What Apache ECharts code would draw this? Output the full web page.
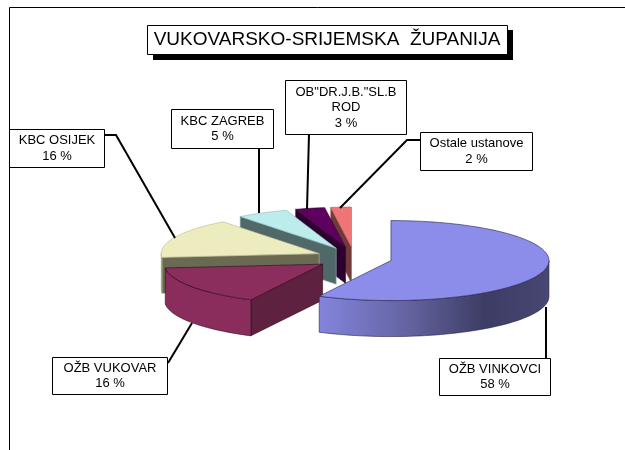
<!DOCTYPE html>
<html><head><meta charset="utf-8">
<style>html,body{margin:0;padding:0;background:#fff}#c{width:625px;height:450px}</style>
<script src="https://cdn.jsdelivr.net/npm/echarts@6/dist/echarts.min.js"></script>
</head><body><div id="c"></div>
<script>
// Data
const chartTitle = 'VUKOVARSKO-SRIJEMSKA  ŽUPANIJA';
const categories = ['OŽB VINKOVCI', 'OŽB VUKOVAR', 'KBC OSIJEK', 'KBC ZAGREB', 'OB"DR.J.B."SL.B\nROD', 'Ostale ustanove'];
const values = [57.5, 16, 16.1, 5.3, 3, 2.1];

// Colours
const topColors  = ['#8C8CEA', '#8B2D5D', '#ECECBE', '#BCECEC', '#5E005E', '#EE7676'];
const faceColors = ['#5a5a98', '#5E2140', '#6A6A52', '#506868', '#2E002E', '#6E3A3A'];
const wallColors = ['#6060a0', '#8A2D5C', '#6A6A52', '#506868', '#2E002E', '#6E3A3A'];
const edgeColors = ['#22224a', '#2a0a1e', '#b8b890', '#8fb8b8', '#2E002E', '#c06060'];

// Pie geometry
const pie = {cx: 354, cy: 258, rx: 158, ry: 40, depth: 36, explodeX: 38, explodeY: 11};

// Call-out layout: box [x, y, w, h], leader polyline
const boxes = [
  [439.5, 358.5, 111, 37], [52.5, 357.5, 115, 37], [9.5, 129.5, 95, 38],
  [171.5, 109.5, 102, 39], [285.5, 80.5, 121, 54], [420.5, 132.5, 112, 38]
];
const leaders = [
  [[546, 358], [546, 307]],
  [[168, 363], [192, 323]],
  [[104, 135], [116, 135], [175, 238]],
  [[259, 149], [259, 213]],
  [[309, 134], [307, 209]],
  [[420, 140], [407, 140], [340, 208]]
];

const total = values.reduce((a, b) => a + b, 0);
const rad = d => d * Math.PI / 180;
const starts = [];
values.reduce((acc, v, i) => { starts[i] = acc; return acc + v / total * 360; }, 0);

function renderSlice(params, api) {
  const i = params.dataIndex;
  const a0 = starts[i], a1 = a0 + api.value(0) / total * 360, mid = rad((a0 + a1) / 2);
  const c = [pie.cx + pie.explodeX * Math.sin(mid), pie.cy - pie.explodeY * Math.cos(mid)];
  const pt = (a, z) => [c[0] + pie.rx * Math.sin(rad(a)), c[1] - pie.ry * Math.cos(rad(a)) + z];
  const arc = (from, to, z) => {
    const out = [], n = Math.max(2, Math.ceil((to - from) / 2));
    for (let k = 0; k <= n; k++) out.push(pt(from + (to - from) * k / n, z));
    return out;
  };
  const z2 = 10 * (values.length - i);
  const children = [];
  if (a0 >= 180) {
    children.push({type: 'polygon', z2,
      shape: {points: [[c[0], c[1]], pt(a0, 0), pt(a0, pie.depth), [c[0], c[1] + pie.depth]]},
      style: {fill: faceColors[i], stroke: edgeColors[i], lineWidth: 0.6}});
  }
  const w0 = Math.max(a0, 90), w1 = Math.min(a1, 270);
  if (w1 > w0) {
    const fill = i === 0 ? new echarts.graphic.LinearGradient(0, 0, 1, 0, [
      {offset: 0, color: '#8484DE'}, {offset: 0.4, color: '#62629F'},
      {offset: 0.72, color: '#3C3C64'}, {offset: 1, color: '#474774'}]) : wallColors[i];
    children.push({type: 'polygon', z2: z2 + 1,
      shape: {points: arc(w0, w1, 0).concat(arc(w0, w1, pie.depth).reverse())},
      style: {fill, stroke: edgeColors[i], lineWidth: 0.6}});
  }
  children.push({type: 'polygon', z2: z2 + 2,
    shape: {points: [[c[0], c[1]]].concat(arc(a0, a1, 0))},
    style: {fill: topColors[i], stroke: edgeColors[i], lineWidth: 0.6}});
  return {type: 'group', children};
}

function renderCallout(params, api) {
  const i = params.dataIndex, b = boxes[i];
  const pct = Math.round(api.value(0) / total * 100);
  return {type: 'group', children: [
    {type: 'polyline', shape: {points: leaders[i]}, style: {fill: null, stroke: '#000', lineWidth: 2}},
    {type: 'rect', shape: {x: b[0], y: b[1], width: b[2], height: b[3]},
      style: {fill: '#fff', stroke: '#000', lineWidth: 1}},
    {type: 'text', style: {
      text: categories[i] + '\n' + pct + ' %',
      x: b[0] + b[2] / 2, y: b[1] + b[3] / 2,
      align: 'center', verticalAlign: 'middle', lineHeight: 15.5,
      font: '13px "Liberation Sans", Arial, sans-serif', fill: '#000'}}
  ]};
}

const chart = echarts.init(document.getElementById('c'), null, {renderer: 'canvas'});
chart.setOption({
  animation: false,
  backgroundColor: '#fff',
  graphic: [
    {type: 'line', shape: {x1: 9.5, y1: 7.5, x2: 625, y2: 7.5}, style: {stroke: '#000', lineWidth: 1}},
    {type: 'line', shape: {x1: 9.5, y1: 7.5, x2: 9.5, y2: 450}, style: {stroke: '#000', lineWidth: 1}},
    {type: 'rect', shape: {x: 153, y: 30, width: 360, height: 30}, style: {fill: '#000'}},
    {type: 'rect', shape: {x: 147.5, y: 25.5, width: 360, height: 29}, style: {fill: '#fff', stroke: '#000', lineWidth: 1}},
    {type: 'text', style: {text: chartTitle, x: 327, y: 40, align: 'center', verticalAlign: 'middle',
      font: '19px "Liberation Sans", Arial, sans-serif', fill: '#000'}}
  ],
  series: [
    {type: 'custom', coordinateSystem: 'none', name: 'slices', z: 2, silent: true,
     renderItem: renderSlice, data: values.map((v, i) => ({name: categories[i], value: [v]}))},
    {type: 'custom', coordinateSystem: 'none', name: 'callouts', z: 3, silent: true,
     renderItem: renderCallout, data: values.map((v, i) => ({name: categories[i], value: [v]}))}
  ]
});
</script></body></html>
